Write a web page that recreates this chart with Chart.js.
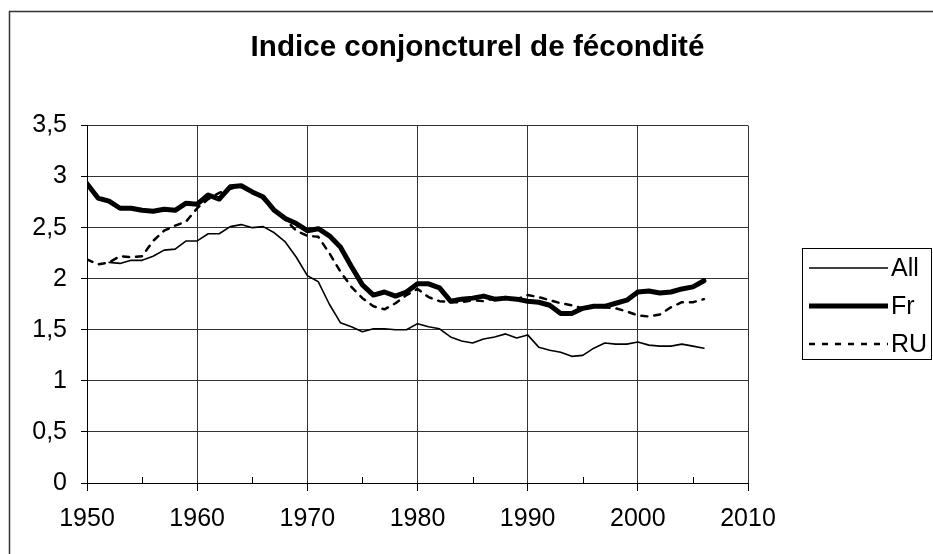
<!DOCTYPE html>
<html>
<head>
<meta charset="utf-8">
<script src="https://cdn.jsdelivr.net/npm/chart.js@4.4.1/dist/chart.umd.min.js"></script>
<style>
  body { margin: 0; background: #fff; }
  #wrap { width: 933px; height: 554px; }
</style>
</head>
<body>
<div id="wrap"><canvas id="chart"></canvas></div>
<script>
const years = [];
for (let y = 1950; y <= 2006; y++) years.push(y);

// 1950 - 2006
const allValues = [
  null, null, 2.16, 2.15, 2.18, 2.18, 2.22, 2.28, 2.29, 2.37,
  2.37, 2.44, 2.44, 2.51, 2.53, 2.50, 2.51, 2.45, 2.36, 2.21,
  2.03, 1.97, 1.75, 1.57, 1.53, 1.48, 1.51, 1.51, 1.50, 1.50,
  1.56, 1.53, 1.51, 1.43, 1.39, 1.37, 1.41, 1.43, 1.46, 1.42,
  1.45, 1.33, 1.30, 1.28, 1.24, 1.25, 1.32, 1.37, 1.36, 1.36,
  1.38, 1.35, 1.34, 1.34, 1.36, 1.34, 1.32
];
const frValues = [
  2.93, 2.79, 2.76, 2.69, 2.69, 2.67, 2.66, 2.68, 2.67, 2.74,
  2.73, 2.82, 2.78, 2.90, 2.91, 2.85, 2.80, 2.67, 2.59, 2.54,
  2.47, 2.49, 2.42, 2.31, 2.12, 1.94, 1.84, 1.87, 1.83, 1.87,
  1.95, 1.95, 1.91, 1.78, 1.80, 1.81, 1.83, 1.80, 1.81, 1.80,
  1.78, 1.77, 1.74, 1.66, 1.66, 1.71, 1.73, 1.73, 1.76, 1.79,
  1.87, 1.88, 1.86, 1.87, 1.90, 1.92, 1.98
];
const ruValues = [
  2.19, 2.14, 2.16, 2.22, 2.21, 2.22, 2.37, 2.47, 2.52, 2.56,
  2.69, 2.78, 2.84, 2.88, 2.91, 2.85, 2.78, 2.66, 2.58, 2.47,
  2.42, 2.41, 2.25, 2.07, 1.92, 1.81, 1.73, 1.70, 1.76, 1.84,
  1.90, 1.82, 1.78, 1.77, 1.77, 1.79, 1.78, 1.81, 1.82, 1.80,
  1.84, 1.82, 1.79, 1.76, 1.74, 1.71, 1.73, 1.72, 1.71, 1.68,
  1.64, 1.63, 1.65, 1.72, 1.77, 1.77, 1.80
];
const seriesNames = ["All", "Fr", "RU"];
const titleText = "Indice conjoncturel de fécondité";

const toPoints = (vals) => years.map((y, i) => ({ x: y, y: vals[i] }));
const fontFamily = "'Liberation Sans', Arial, sans-serif";

// outer frame, minor ticks and boxed legend
const extras = {
  id: "extras",
  afterDraw(chart) {
    const ctx = chart.ctx;
    const xs = chart.scales.x;
    const bottom = chart.chartArea.bottom;
    ctx.save();

    ctx.strokeStyle = "#333";
    ctx.lineWidth = 1.5;
    ctx.beginPath();
    ctx.moveTo(9.5, 560);
    ctx.lineTo(9.5, 11.5);
    ctx.lineTo(940, 11.5);
    ctx.stroke();

    ctx.strokeStyle = "#000";
    ctx.lineWidth = 1;
    for (let y = 1955; y < 2010; y += 10) {
      const px = Math.round(xs.getPixelForValue(y)) + 0.5;
      ctx.beginPath();
      ctx.moveTo(px, bottom);
      ctx.lineTo(px, bottom - 6);
      ctx.stroke();
    }

    ctx.fillStyle = "#fff";
    ctx.fillRect(802.5, 248.5, 129, 111);
    ctx.strokeStyle = "#000";
    ctx.strokeRect(802.5, 248.5, 129, 111);

    ctx.font = "25px " + fontFamily;
    ctx.textBaseline = "middle";
    const rows = [268, 306, 344];
    chart.data.datasets.forEach((ds, i) => {
      ctx.strokeStyle = ds.borderColor;
      ctx.lineWidth = ds.borderWidth;
      ctx.setLineDash(ds.borderDash || []);
      ctx.beginPath();
      ctx.moveTo(809, rows[i]);
      ctx.lineTo(888, rows[i]);
      ctx.stroke();
      ctx.setLineDash([]);
      ctx.fillStyle = "#000";
      ctx.fillText(ds.label, 891, rows[i] + 1);
    });
    ctx.restore();
  },
};

new Chart(document.getElementById("chart"), {
  type: "line",
  data: {
    datasets: [
      {
        label: seriesNames[0],
        data: toPoints(allValues),
        borderColor: "#000",
        borderWidth: 1.6,
      },
      {
        label: seriesNames[1],
        data: toPoints(frValues),
        borderColor: "#000",
        borderWidth: 5,
      },
      {
        label: seriesNames[2],
        data: toPoints(ruValues),
        borderColor: "#000",
        borderWidth: 2.5,
        borderDash: [6, 7],
      },
    ],
  },
  options: {
    responsive: true,
    maintainAspectRatio: false,
    animation: false,
    layout: { padding: { left: 22, right: 0, top: 0, bottom: 7 } },
    elements: {
      point: { radius: 0 },
      line: { tension: 0, borderJoinStyle: "round", borderCapStyle: "round" },
    },
    plugins: {
      legend: { display: false },
      tooltip: { enabled: false },
      title: {
        display: true,
        text: titleText,
        color: "#000",
        font: { family: fontFamily, size: 29.6, weight: "bold" },
        padding: { top: 30, bottom: 60 },
      },
    },
    scales: {
      x: {
        type: "linear",
        min: 1950,
        max: 2010,
        ticks: {
          stepSize: 10,
          color: "#000",
          font: { family: fontFamily, size: 25 },
          padding: 13,
          maxRotation: 0,
          callback: (v) => String(v),
        },
        grid: { color: "#333", tickColor: "#000", tickLength: 8 },
        border: { color: "#000", width: 1 },
      },
      y: {
        min: 0,
        max: 3.5,
        afterFit: (s) => { s.width = 65; },
        ticks: {
          stepSize: 0.5,
          color: "#000",
          font: { family: fontFamily, size: 25 },
          padding: 14,
          callback: (v) => String(v).replace(".", ","),
        },
        grid: { color: "#333", tickColor: "#000", tickLength: 6 },
        border: { color: "#000", width: 1 },
      },
      // empty right-hand space for the legend
      y2: {
        position: "right",
        display: true,
        afterFit: (s) => { s.width = 185; },
        ticks: { display: false },
        grid: { display: false, drawOnChartArea: false },
        border: { display: false },
      },
    },
  },
  plugins: [extras],
});
</script>
</body>
</html>
